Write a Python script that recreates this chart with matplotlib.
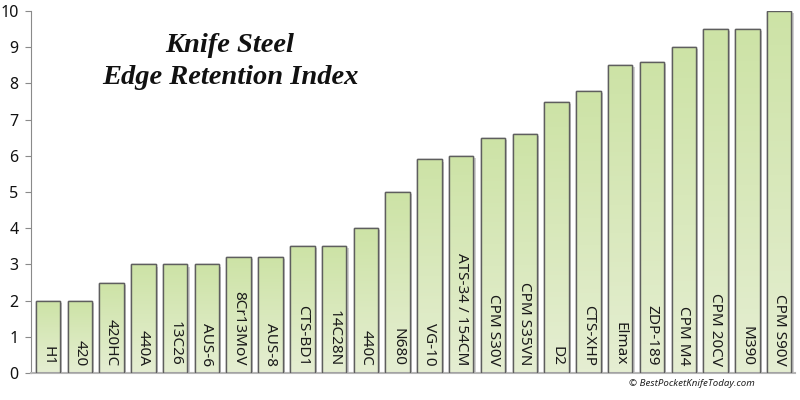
import numpy as np
import matplotlib
matplotlib.use("Agg")
import matplotlib.pyplot as plt
from matplotlib.colors import LinearSegmentedColormap

# Knife steel names and their edge retention index
steels = ["H1", "420", "420HC", "440A", "13C26", "AUS-6", "8Cr13MoV", "AUS-8",
          "CTS-BD1", "14C28N", "440C", "N680", "VG-10", "ATS-34 / 154CM",
          "CPM S30V", "CPM S35VN", "D2", "CTS-XHP", "Elmax", "ZDP-189",
          "CPM M4", "CPM 20CV", "M390", "CPM S90V"]
retention = [2, 2, 2.5, 3, 3, 3, 3.2, 3.2, 3.5, 3.5, 4, 5, 5.9, 6,
             6.5, 6.6, 7.5, 7.8, 8.5, 8.6, 9, 9.5, 9.5, 10]
y_ticks = list(range(0, 11))

fig = plt.figure(figsize=(8, 4), dpi=100)
ax = fig.add_axes([31 / 800, 27 / 400, 764 / 800, 362 / 400])

x = np.arange(len(steels))
width = 0.77

# shadow behind bars
ax.bar(x + 0.07, retention, width=width, bottom=-0.06, color="#d0d0d0",
       edgecolor="none", zorder=1)
bars = ax.bar(x, retention, width=width, color="#d5e7b6", edgecolor="#5e5e5e",
              linewidth=1.0, zorder=2)

# vertical gradient inside each bar (greener on top)
cmap = LinearSegmentedColormap.from_list("bar", ["#e5eed2", "#cde3a6"])
grad = np.linspace(0, 1, 64).reshape(-1, 1)
for b in bars:
    x0, w, h = b.get_x(), b.get_width(), b.get_height()
    im = ax.imshow(grad, cmap=cmap, origin="lower", aspect="auto",
                   extent=(x0, x0 + w, 0, h), zorder=2.5)
    im.set_clip_path(b)
    # outline again on top of the gradient
    ax.bar(b.get_x() + w / 2, h, width=w, color="none", edgecolor="#5e5e5e",
           linewidth=1.0, zorder=3)

for xi, name in zip(x, steels):
    ax.text(xi, 0.2, name, rotation=270, ha="center", va="bottom",
            fontsize=11, color="#1a1a1a", family="Noto Sans", zorder=4)

ax.set_xlim(-0.535, 23.5)
ax.set_ylim(0, 10)
ax.set_yticks(y_ticks)
ax.set_yticklabels([str(t) for t in y_ticks], fontsize=11.5, family="Noto Sans",
                   color="#111111")
ax.set_xticks([])
ax.tick_params(axis="y", length=4, color="#8a8a8a", pad=5)
for side in ["top", "right"]:
    ax.spines[side].set_visible(False)
ax.spines["left"].set_color("#8a8a8a")
ax.spines["bottom"].set_color("#b5b5b5")
ax.spines["bottom"].set_linewidth(1.5)

fig.text(230 / 800, 1 - 45 / 400, "Knife Steel", ha="center", va="center",
         fontsize=20.5, fontweight="bold", fontstyle="italic",
         family="Liberation Serif", color="#111111")
fig.text(230 / 800, 1 - 77 / 400, "Edge Retention Index", ha="center",
         va="center", fontsize=20.5, fontweight="bold", fontstyle="italic",
         family="Liberation Serif", color="#111111")
fig.text(692 / 800, 1 - 384 / 400, "\u00a9 BestPocketKnifeToday.com",
         ha="center", va="center", fontsize=7, fontstyle="italic",
         family="Noto Sans", color="#222222")

fig.savefig("out.png", dpi=100)
